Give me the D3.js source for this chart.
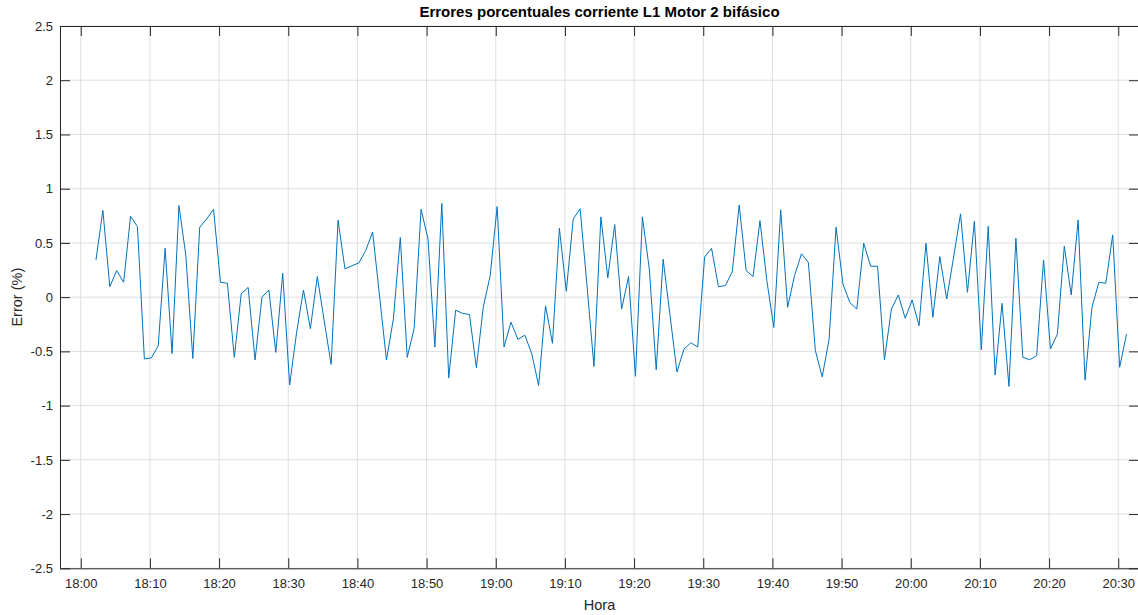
<html>
<head>
<meta charset="utf-8">
<style>
  body { margin: 0; background: #fff; }
  svg { display: block; font-family: "Liberation Sans", Arial, Helvetica, sans-serif; }
</style>
<script src="https://cdn.jsdelivr.net/npm/d3@7"></script>
</head>
<body>
<svg id="chart" width="1138" height="615"></svg>
<script>
// sampling: one reading per minute starting 18:02:12
var startTime = "18:02:12";
var stepMinutes = 1;

// error (%) for each sample
var errorValues = [
  0.343, 0.80, 0.097, 0.245, 0.137, 0.746, 0.65, -0.57, -0.56, -0.45,
  0.45, -0.52, 0.845, 0.38, -0.565, 0.645, 0.72, 0.81, 0.137, 0.128,
  -0.555, 0.03, 0.09, -0.58, 0.0, 0.066, -0.51, 0.22, -0.81, -0.33,
  0.066, -0.29, 0.19, -0.22, -0.62, 0.71, 0.26, 0.29, 0.315, 0.43,
  0.6, 0.01, -0.58, -0.2, 0.55, -0.555, -0.29, 0.81, 0.54, -0.46,
  0.865, -0.745, -0.12, -0.15, -0.16, -0.65, -0.09, 0.2, 0.835, -0.46,
  -0.23, -0.39, -0.35, -0.52, -0.815, -0.08, -0.425, 0.635, 0.054, 0.72,
  0.815, 0.1, -0.64, 0.74, 0.177, 0.67, -0.11, 0.19, -0.73, 0.74,
  0.26, -0.67, 0.35, -0.17, -0.69, -0.48, -0.42, -0.46, 0.37, 0.45,
  0.097, 0.106, 0.235, 0.85, 0.245, 0.19, 0.705, 0.15, -0.28, 0.805,
  -0.094, 0.2, 0.4, 0.32, -0.49, -0.735, -0.385, 0.645, 0.12, -0.05,
  -0.11, 0.497, 0.285, 0.285, -0.577, -0.11, 0.02, -0.195, -0.027, -0.263,
  0.497, -0.186, 0.374, -0.017, 0.37, 0.768, 0.045, 0.7, -0.485, 0.654,
  -0.718, -0.057, -0.823, 0.543, -0.555, -0.577, -0.54, 0.343, -0.478, -0.34,
  0.47, 0.02, 0.712, -0.765, -0.094, 0.137, 0.128, 0.574, -0.647, -0.34
];

var xLimits = ["17:57", "20:33"];
var yLimits = [-2.5, 2.5];
var yTicks = [-2.5, -2, -1.5, -1, -0.5, 0, 0.5, 1, 1.5, 2, 2.5];

var titleText = "Errores porcentuales corriente L1 Motor 2 bifásico";
var xLabel = "Hora";
var yLabel = "Error (%)";

(function() {
  var parseHM = d3.timeParse("%H:%M");
  var parseHMS = d3.timeParse("%H:%M:%S");
  var t0 = parseHMS(startTime);
  var data = errorValues.map(function(v, i) {
    return { t: d3.timeSecond.offset(t0, i * stepMinutes * 60), v: v };
  });

  var pLeft = 60, pRight = 1139, pTop = 26, pBottom = 568.3;
  var tickLen = 10;
  var axisColor = "#262626";

  var svg = d3.select("#chart");

  var x = d3.scaleTime()
    .domain(xLimits.map(parseHM))
    .range([pLeft, pRight]);
  var y = d3.scaleLinear()
    .domain(yLimits)
    .range([pBottom, pTop]);

  var xTicks = x.ticks(d3.timeMinute.every(10));

  // grid
  svg.append("g").selectAll("line").data(xTicks).enter().append("line")
    .attr("x1", function(d) { return x(d); }).attr("x2", function(d) { return x(d); })
    .attr("y1", pTop).attr("y2", pBottom)
    .attr("stroke", "#dfdfdf").attr("stroke-width", 1);
  svg.append("g").selectAll("line").data(yTicks).enter().append("line")
    .attr("y1", function(d) { return y(d); }).attr("y2", function(d) { return y(d); })
    .attr("x1", pLeft).attr("x2", pRight)
    .attr("stroke", "#dfdfdf").attr("stroke-width", 1);

  // data line
  var line = d3.line()
    .x(function(d) { return x(d.t); })
    .y(function(d) { return y(d.v); });
  svg.append("path")
    .datum(data)
    .attr("d", line)
    .attr("fill", "none")
    .attr("stroke", "#0072BD")
    .attr("stroke-width", 1)
    .attr("stroke-linejoin", "round");

  // axes (MATLAB style: inward ticks, box)
  var fmtX = d3.timeFormat("%H:%M");
  var xAxisB = d3.axisBottom(x).tickValues(xTicks).tickFormat(fmtX).tickSizeInner(-tickLen).tickSizeOuter(0).tickPadding(10);
  var xAxisT = d3.axisTop(x).tickValues(xTicks).tickFormat("").tickSizeInner(-tickLen).tickSizeOuter(0);
  var yAxisL = d3.axisLeft(y).tickValues(yTicks).tickFormat(function(d) { return String(d); }).tickSizeInner(-tickLen).tickSizeOuter(0).tickPadding(7);
  var yAxisR = d3.axisRight(y).tickValues(yTicks).tickFormat("").tickSizeInner(-tickLen).tickSizeOuter(0);

  function styleAxis(g) {
    g.selectAll("path").attr("stroke", axisColor).attr("stroke-width", 1);
    g.selectAll("line").attr("stroke", axisColor);
    g.selectAll("text").attr("fill", axisColor).style("font-size", "13px");
  }

  svg.append("g").attr("transform", "translate(0," + pBottom + ")").call(xAxisB).call(styleAxis);
  svg.append("g").attr("transform", "translate(0," + pTop + ")").call(xAxisT).call(styleAxis);
  svg.append("g").attr("transform", "translate(" + pLeft + ",0)").call(yAxisL).call(styleAxis);
  svg.append("g").attr("transform", "translate(" + pRight + ",0)").call(yAxisR).call(styleAxis);

  // title and labels
  svg.append("text")
    .attr("x", (pLeft + pRight) / 2).attr("y", 17)
    .attr("text-anchor", "middle")
    .style("font-size", "15px").style("font-weight", "bold")
    .attr("fill", "#000")
    .text(titleText);

  svg.append("text")
    .attr("x", (pLeft + pRight) / 2).attr("y", 610)
    .attr("text-anchor", "middle")
    .style("font-size", "14.5px")
    .attr("fill", axisColor)
    .text(xLabel);

  svg.append("text")
    .attr("transform", "translate(22," + ((pTop + pBottom) / 2) + ") rotate(-90)")
    .attr("text-anchor", "middle")
    .style("font-size", "14.5px")
    .attr("fill", axisColor)
    .text(yLabel);
})();
</script>
</body>
</html>
